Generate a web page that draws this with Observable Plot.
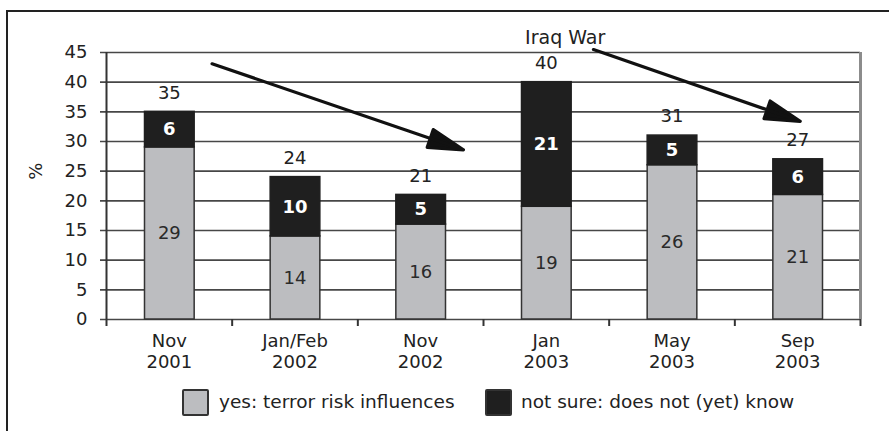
<!DOCTYPE html>
<html>
<head>
<meta charset="utf-8">
<script src="https://cdn.jsdelivr.net/npm/d3@7"></script>
<script src="https://cdn.jsdelivr.net/npm/@observablehq/plot@0.6"></script>
<style>
  html, body { margin: 0; padding: 0; background: #fff; }
  #wrap { position: relative; width: 889px; height: 431px; overflow: hidden; font-family: "DejaVu Sans", sans-serif; color: #222; }
  #frame { position: absolute; left: 6px; top: 10px; width: 900px; height: 440px; border-left: 2px solid #222; border-top: 2px solid #222; }
  #chart { position: absolute; left: 0; top: 0; }
  #legend { position: absolute; left: 0; top: 389px; width: 889px; height: 28px; font-size: 18.5px; }
  .sw { position: absolute; top: 0; width: 23px; height: 23px; border: 2px solid #333; border-radius: 2px; }
  .lt { position: absolute; top: 2px; line-height: 22px; white-space: nowrap; }
</style>
</head>
<body>
<div id="wrap">
  <div id="frame"></div>
  <div id="chart"></div>
  <div id="legend"></div>
</div>
<script>
const categories = ["Nov 2001", "Jan/Feb 2002", "Nov 2002", "Jan 2003", "May 2003", "Sep 2003"];
const yesValues = [29, 14, 16, 19, 26, 21];
const notSureValues = [6, 10, 5, 21, 5, 6];
const totalValues = [35, 24, 21, 40, 31, 27];
const yTicks = [0, 5, 10, 15, 20, 25, 30, 35, 40, 45];
const seriesNames = ["yes: terror risk influences", "not sure: does not (yet) know"];
const seriesColors = ["#bcbdc0", "#1f1f1f"];
const yLabel = "%";
const annotationLabel = ["Iraq War"];
const annotationX = [3.65];
const annotationY = [47.4];
const arrowStartX = [0.84, 3.875];
const arrowStartY = [43.1, 45.5];
const arrowEndX = [2.84, 5.52];
const arrowEndY = [28.6, 33.4];

const rows = categories.map((c, i) => ({i, cat: c, yes: yesValues[i], ns: notSureValues[i], total: totalValues[i]}));
const arrows = arrowStartX.map((x, i) => ({x1: x, y1: arrowStartY[i], x2: arrowEndX[i], y2: arrowEndY[i]}));
const notes = annotationLabel.map((t, i) => ({t, x: annotationX[i], y: annotationY[i]}));

const chart = Plot.plot({
  width: 889,
  height: 385,
  marginLeft: 106,
  marginRight: 29,
  marginTop: 52,
  marginBottom: 66,
  style: {fontFamily: "DejaVu Sans, sans-serif", fontSize: "18px", color: "#222", background: "transparent", overflow: "visible"},
  x: {type: "linear", domain: [0, categories.length]},
  y: {domain: [0, 45]},
  marks: [
    Plot.ruleY(yTicks, {stroke: "#474747", strokeWidth: 1.6, insetLeft: -6}),
    Plot.rect(rows, {x1: d => d.i, x2: d => d.i + 1, y1: 0, y2: "yes", fill: seriesColors[0], stroke: "#333", strokeWidth: 1.5, insetLeft: 38.5, insetRight: 37.5}),
    Plot.rect(rows, {x1: d => d.i, x2: d => d.i + 1, y1: "yes", y2: "total", fill: seriesColors[1], stroke: "#1f1f1f", strokeWidth: 1.5, insetLeft: 38.5, insetRight: 37.5}),
    Plot.ruleX([0], {stroke: "#333", strokeWidth: 2}),
    Plot.ruleX([categories.length], {stroke: "#8c8c8c", strokeWidth: 3}),
    Plot.axisX({ticks: d3.range(categories.length + 1), tickSize: 7, tickFormat: () => "", stroke: "#333", strokeWidth: 2}),
    Plot.axisX({ticks: d3.range(categories.length).map(i => i + 0.5), tickSize: 0, tickPadding: 13, lineHeight: 1.15,
      tickFormat: t => categories[Math.floor(t)].replace(" ", "\n"), fill: "#222", label: null}),
    Plot.axisY({ticks: yTicks, tickSize: 0, tickPadding: 19, fill: "#222", label: null}),
    Plot.text([yLabel], {x: 0, y: 25, dx: -70, rotate: -90, fill: "#222"}),
    Plot.text(rows, {x: d => d.i + 0.5, y: d => d.yes / 2, text: "yes", fill: "#2a2a2a"}),
    Plot.text(rows, {x: d => d.i + 0.5, y: d => d.yes + d.ns / 2, text: "ns", fill: "#fff", fontWeight: "bold"}),
    Plot.text(rows, {x: d => d.i + 0.5, y: "total", dy: -19, text: "total", fill: "#222"}),
    Plot.arrow(arrows, {x1: "x1", y1: "y1", x2: "x2", y2: "y2", stroke: "#111", strokeWidth: 3.2, headLength: 17, headAngle: 30}),
    Plot.text(notes, {x: "x", y: "y", text: "t", fill: "#222", fontSize: 19})
  ]
});
// close the arrow heads into solid triangles
d3.select(chart).selectAll('g[aria-label="arrow"] path')
  .attr("d", function() { return this.getAttribute("d") + "Z"; })
  .attr("fill", "#111")
  .attr("stroke-linejoin", "round");
document.getElementById("chart").appendChild(chart);

const legend = document.getElementById("legend");
const swX = [182, 485];
const txX = [219, 521];
seriesNames.forEach((name, i) => {
  const sw = document.createElement("div");
  sw.className = "sw";
  sw.style.left = swX[i] + "px";
  sw.style.background = seriesColors[i];
  legend.appendChild(sw);
  const t = document.createElement("div");
  t.className = "lt";
  t.style.left = txX[i] + "px";
  t.textContent = name;
  legend.appendChild(t);
});
</script>
</body>
</html>
